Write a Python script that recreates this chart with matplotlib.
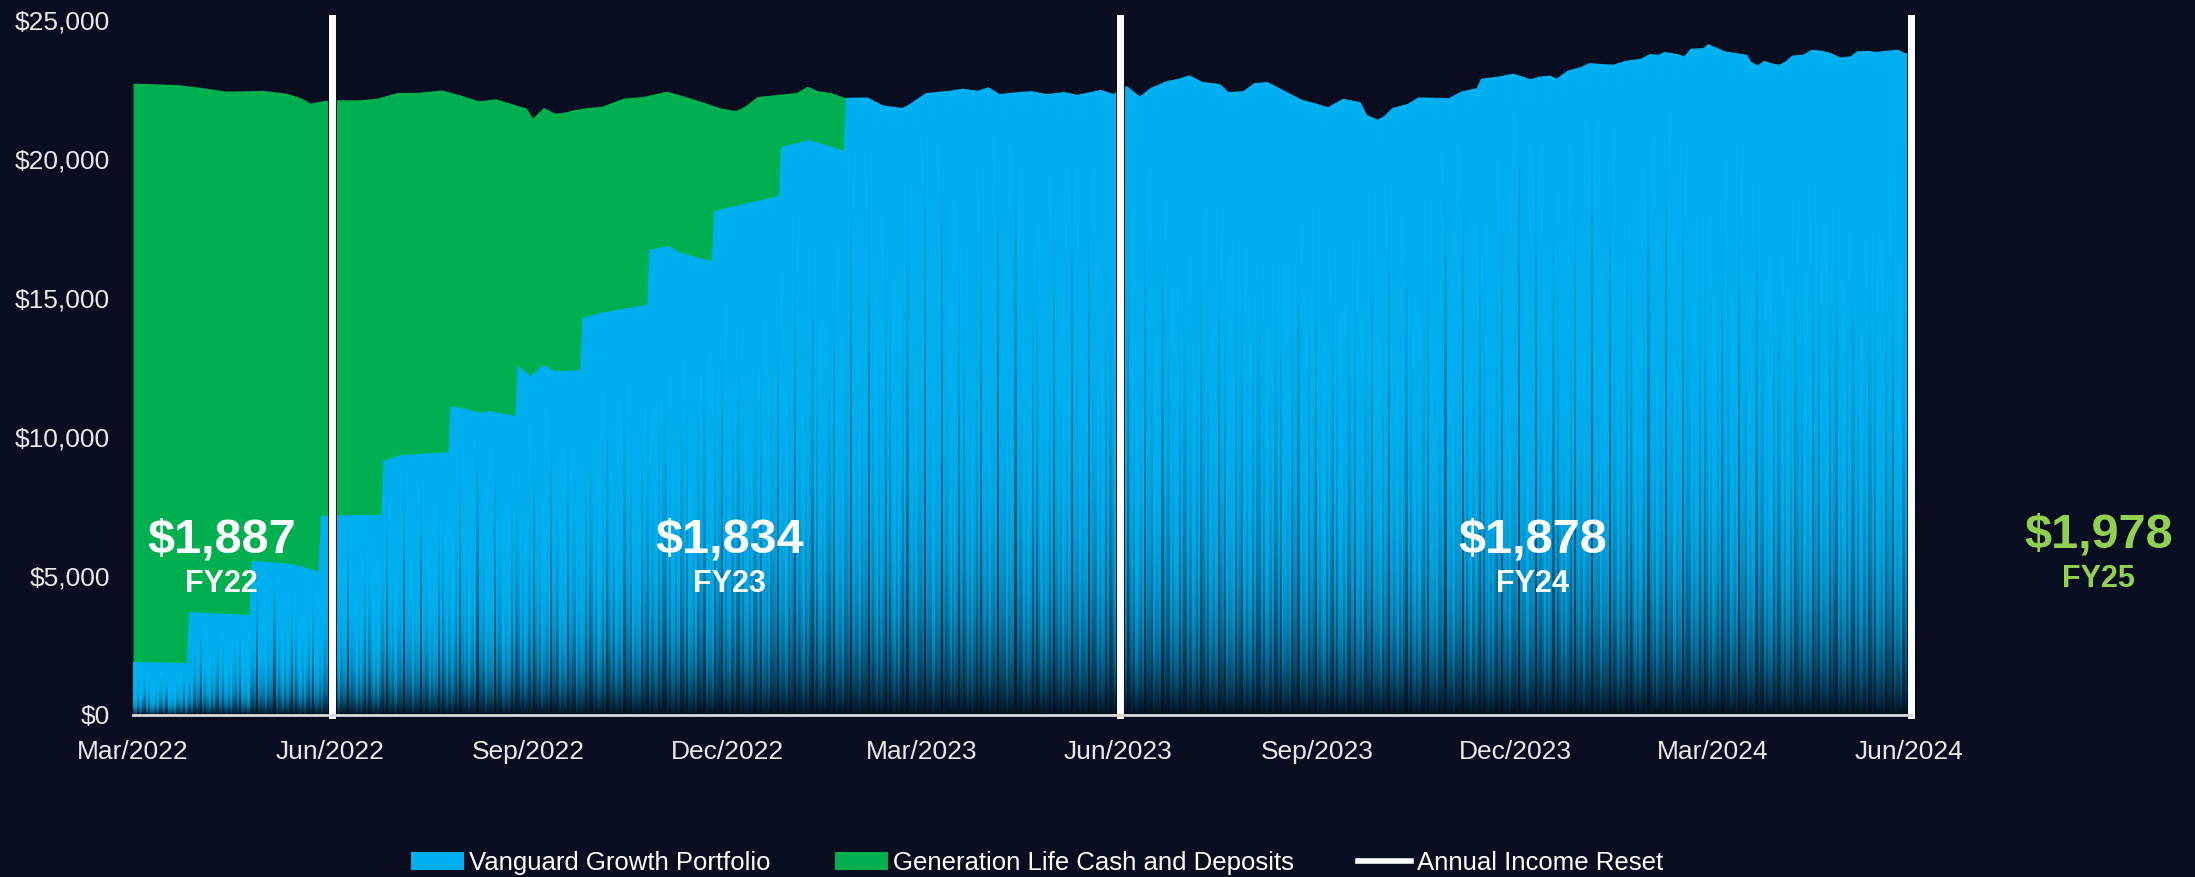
import numpy as np
import pandas as pd
import matplotlib
matplotlib.use("Agg")
import matplotlib.pyplot as plt
import matplotlib.dates as mdates
from matplotlib.colors import to_rgb
from matplotlib.patches import Patch
from matplotlib.lines import Line2D
from matplotlib.path import Path
from matplotlib.ticker import FuncFormatter

plt.rcParams["font.family"] = ["Liberation Sans", "DejaVu Sans"]

BG = "#090d20"
BLUE = "#00b0f0"
GREEN = "#00b050"
LIME = "#92d050"

# Total portfolio balance (cash + growth), AUD
total_dates = [
    "2022-03-31", "2022-04-20", "2022-05-01", "2022-05-13", "2022-05-30", "2022-06-10",
    "2022-06-17", "2022-06-21", "2022-06-27", "2022-07-02", "2022-07-14", "2022-07-22",
    "2022-07-31", "2022-08-10", "2022-08-21", "2022-08-29", "2022-09-07", "2022-09-15",
    "2022-09-24", "2022-09-29", "2022-10-02", "2022-10-07", "2022-10-12", "2022-10-16",
    "2022-10-21", "2022-10-28", "2022-11-03", "2022-11-13", "2022-11-22", "2022-12-03",
    "2022-12-09", "2022-12-18", "2022-12-28", "2023-01-04", "2023-01-08", "2023-01-14",
    "2023-01-25", "2023-02-01", "2023-02-06", "2023-02-11", "2023-02-17", "2023-02-24",
    "2023-03-06", "2023-03-13", "2023-03-22", "2023-03-25", "2023-04-02", "2023-04-13",
    "2023-04-19", "2023-04-26", "2023-05-01", "2023-05-06", "2023-05-15", "2023-05-21",
    "2023-05-28", "2023-06-05", "2023-06-11", "2023-06-22", "2023-06-28", "2023-06-30",
    "2023-07-04", "2023-07-10", "2023-07-15", "2023-07-22", "2023-07-28", "2023-08-02",
    "2023-08-08", "2023-08-16", "2023-08-20", "2023-08-27", "2023-09-01", "2023-09-07",
    "2023-09-11", "2023-09-23", "2023-09-29", "2023-10-05", "2023-10-12", "2023-10-20",
    "2023-10-23", "2023-10-28", "2023-10-31", "2023-11-04", "2023-11-11", "2023-11-16",
    "2023-11-30", "2023-12-06", "2023-12-13", "2023-12-15", "2023-12-23", "2023-12-30",
    "2024-01-07", "2024-01-11", "2024-01-16", "2024-01-19", "2024-01-24", "2024-01-30",
    "2024-02-03", "2024-02-14", "2024-02-20", "2024-02-27", "2024-03-02", "2024-03-06",
    "2024-03-09", "2024-03-15", "2024-03-18", "2024-03-21", "2024-03-27", "2024-03-29",
    "2024-04-06", "2024-04-16", "2024-04-18", "2024-04-21", "2024-04-24", "2024-04-27",
    "2024-05-01", "2024-05-04", "2024-05-07", "2024-05-12", "2024-05-16", "2024-05-21",
    "2024-05-25", "2024-05-29", "2024-06-03", "2024-06-06", "2024-06-11", "2024-06-15",
    "2024-06-19", "2024-06-25", "2024-06-28", "2024-07-01",
]
total_values = [
    22730, 22680, 22580, 22440, 22470, 22370,
    22190, 22010, 22100, 22130, 22130, 22190,
    22390, 22400, 22485, 22310, 22095, 22165,
    21950, 21835, 21475, 21860, 21655, 21675,
    21775, 21860, 21895, 22190, 22250, 22440,
    22310, 22095, 21835, 21740, 21895, 22250,
    22335, 22390, 22620, 22455, 22390, 22200,
    22215, 21930, 21835, 21950, 22370, 22455,
    22530, 22455, 22580, 22335, 22410, 22440,
    22335, 22410, 22310, 22485, 22335, 22530,
    22620, 22250, 22550, 22790, 22890, 23010,
    22770, 22700, 22410, 22440, 22730, 22770,
    22615, 22130, 22010, 21860, 22165, 22050,
    21590, 21415, 21535, 21835, 21980, 22215,
    22190, 22430, 22550, 22890, 22965, 23070,
    22870, 22965, 23000, 22890, 23180, 23300,
    23450, 23390, 23535, 23605, 23775, 23750,
    23850, 23775, 23690, 23965, 23990, 24135,
    23870, 23750, 23490, 23365, 23535, 23450,
    23390, 23510, 23720, 23750, 23930, 23890,
    23810, 23655, 23690, 23870, 23890, 23850,
    23890, 23930, 23810, 23810,
]

# Vanguard Growth Portfolio balance while cash was being drip-fed in monthly
vanguard_dates = [
    "2022-03-31", "2022-04-12", "2022-04-25", "2022-04-26", "2022-05-10", "2022-05-24",
    "2022-05-25", "2022-06-08", "2022-06-16", "2022-06-25", "2022-06-26", "2022-07-10",
    "2022-07-24", "2022-07-25", "2022-08-02", "2022-08-24", "2022-08-25", "2022-09-03",
    "2022-09-08", "2022-09-12", "2022-09-24", "2022-09-25", "2022-10-01", "2022-10-07",
    "2022-10-12", "2022-10-24", "2022-10-25", "2022-11-02", "2022-11-24", "2022-11-25",
    "2022-12-04", "2022-12-09", "2022-12-24", "2022-12-25", "2023-01-14", "2023-01-24",
    "2023-01-25", "2023-02-07", "2023-02-16", "2023-02-23",
]
vanguard_values = [
    1906, 1890, 1870, 3705, 3650, 3600,
    5540, 5470, 5360, 5160, 7160, 7190,
    7200, 9140, 9350, 9450, 11115, 10970,
    10860, 10930, 10755, 12550, 12190, 12590,
    12370, 12400, 14280, 14460, 14750, 16730,
    16870, 16620, 16330, 18130, 18490, 18670,
    20430, 20680, 20470, 20290,
]
# From this date the whole balance sits in the growth portfolio
cash_exhausted = "2023-02-24"

reset_dates = ["2022-07-01", "2023-07-01", "2024-07-01"]

fy_labels = ["FY22", "FY23", "FY24", "FY25"]
fy_income = [1887, 1834, 1878, 1978]

tick_dates = ["2022-03-31", "2022-06-30", "2022-09-30", "2022-12-31", "2023-03-31",
              "2023-06-30", "2023-09-30", "2023-12-31", "2024-03-31", "2024-06-30"]
tick_labels = ["Mar/2022", "Jun/2022", "Sep/2022", "Dec/2022", "Mar/2023",
               "Jun/2023", "Sep/2023", "Dec/2023", "Mar/2024", "Jun/2024"]
y_ticks = [0, 5000, 10000, 15000, 20000, 25000]

# ---- series assembly ----
t_dates = pd.to_datetime(total_dates)
t_vals = np.asarray(total_values, dtype=float)
cut = pd.Timestamp(cash_exhausted)
g_mask = t_dates <= cut
v_dates = pd.to_datetime(vanguard_dates).append(t_dates[t_dates >= cut])
v_vals = np.concatenate([np.asarray(vanguard_values, dtype=float), t_vals[t_dates >= cut]])

# ---- figure ----
W, H = 2195, 877
fig = plt.figure(figsize=(W / 100, H / 100), dpi=100, facecolor=BG)
ax = fig.add_axes([133 / W, 162 / H, 1778 / W, 697 / H])
ax.set_facecolor(BG)

x_start, x_end = pd.Timestamp("2022-03-31"), pd.Timestamp("2024-07-01")
y_top = 25072

ax.fill_between(t_dates[g_mask], 0, t_vals[g_mask], color=GREEN, lw=0, zorder=1)
blue = ax.fill_between(v_dates, 0, v_vals, color=BLUE, lw=0, zorder=1.5)

# Streaked dark-to-blue shading inside the growth-portfolio area (one column per day)
x0n, x1n = mdates.date2num(x_start), mdates.date2num(x_end)
ncol = int(round(x1n - x0n))
nrow = 700
centers = x0n + np.arange(ncol) + 0.5
vn = mdates.date2num(v_dates)
col_h = np.interp(centers, vn, v_vals)
rows = (np.arange(nrow) + 0.5) / nrow * y_top
frac = np.clip(rows[:, None] / col_h[None, :], 0, 1)
j = np.arange(ncol)
k = 6.5 + 3.0 * np.sin(j * 2.399) + 2.0 * np.sin(j * 0.731 + 1.3)
shade = 1 - (1 - frac) ** k[None, :]
dark = np.array([0.02, 0.06, 0.12])
blue_rgb = np.array(to_rgb(BLUE))
img = dark + shade[..., None] * (blue_rgb - dark)
im = ax.imshow(img, extent=[x0n, x1n, 0, y_top], origin="lower", aspect="auto",
               interpolation="nearest", zorder=2)
paths = blue.get_paths()
clip = paths[0] if len(paths) == 1 else Path.make_compound_path(*paths)
im.set_clip_path(clip, transform=ax.transData)

ax.set_xlim(x_start, x_end)
ax.set_ylim(0, y_top)

# Annual income reset markers
for d in reset_dates:
    ax.axvline(pd.Timestamp(d), color=BG, lw=6.4, zorder=4, clip_on=False)
    ax.axvline(pd.Timestamp(d), color="white", lw=5, zorder=5, clip_on=False)

for s in ["top", "right", "left"]:
    ax.spines[s].set_visible(False)
ax.spines["bottom"].set_color("#d9d9d9")
ax.spines["bottom"].set_linewidth(2)
ax.spines["bottom"].set_zorder(6)

ax.set_xticks(pd.to_datetime(tick_dates))
ax.set_xticklabels(tick_labels)
ax.set_yticks(y_ticks)
ax.yaxis.set_major_formatter(FuncFormatter(lambda v, p: f"${v:,.0f}"))
ax.tick_params(axis="x", length=0, pad=18, labelsize=19, labelcolor="#e8e8e8")
ax.tick_params(axis="y", length=0, pad=16.5, labelsize=19, labelcolor="#e8e8e8")

# Annual income call-outs
label_x = [pd.Timestamp("2022-05-11"), pd.Timestamp("2023-01-01"), pd.Timestamp("2024-01-08")]
for xd, lab, val in zip(label_x, fy_labels[:3], fy_income[:3]):
    ax.text(xd, 5863, f"${val:,}", ha="center", va="baseline", fontsize=35,
            fontweight="bold", color="white", zorder=7)
    ax.text(xd, 4424, lab, ha="center", va="baseline", fontsize=22,
            fontweight="bold", color="white", zorder=7)
ax.text(1.1055, 6043 / y_top, f"${fy_income[3]:,}", transform=ax.transAxes, ha="center",
        va="baseline", fontsize=35, fontweight="bold", color=LIME, clip_on=False)
ax.text(1.1055, 4604 / y_top, fy_labels[3], transform=ax.transAxes, ha="center",
        va="baseline", fontsize=22, fontweight="bold", color=LIME, clip_on=False)

handles = [Patch(facecolor=BLUE, edgecolor="none"),
           Patch(facecolor=GREEN, edgecolor="none"),
           Line2D([], [], color="white", lw=4)]
labels = ["Vanguard Growth Portfolio", "Generation Life Cash and Deposits", "Annual Income Reset"]
fig.legend(handles, labels, loc="center", bbox_to_anchor=(1037 / W, 1 - 863 / H), ncol=3,
           frameon=False, fontsize=18.5, labelcolor="white", handlelength=2.06,
           handletextpad=0.2, columnspacing=2.5, handleheight=0.7)

fig.savefig("out.png", dpi=100, facecolor=BG)
